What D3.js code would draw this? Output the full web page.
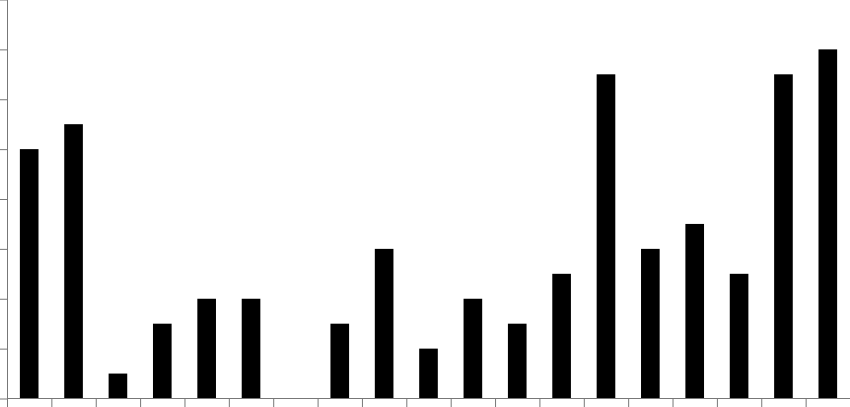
<!DOCTYPE html>
<html>
    <head>
        <script src="https://d3js.org/d3.v7.min.js"></script>
        <style>
            body { margin: 0; background: #fff; }
            svg { display: block; }
        </style>
    </head>
    <body>
        <script>
            const categories = ['1', '2', '3', '4', '5', '6', '7', '8', '9', '10',
                '11', '12', '13', '14', '15', '16', '17', '18', '19']
            const values = [5, 5.5, 0.5, 1.5, 2, 2, 0, 1.5, 3, 1, 2, 1.5, 2.5, 6.5, 3, 3.5, 2.5, 6.5, 7]
            const yTicks = [0, 1, 2, 3, 4, 5, 6, 7, 8]

            const width = 850
            const height = 407
            const left = 7
            const right = 850
            const bottom = 398.5

            const svg = d3.select('body').append('svg')
                .attr('width', width)
                .attr('height', height)

            const x = d3.scaleBand()
                .domain(categories)
                .range([left, right])
                .paddingInner(0.58)
                .paddingOuter(0.29)

            const xEdges = d3.scaleLinear()
                .domain([0, categories.length])
                .range([left, right])

            const y = d3.scaleLinear()
                .domain([0, 8])
                .range([bottom, -0.5])

            svg.selectAll('.bar')
                .data(values).enter()
                .append('rect')
                    .attr('class', 'bar')
                    .attr('x', (d, i) => x(categories[i]))
                    .attr('y', d => y(d))
                    .attr('width', x.bandwidth())
                    .attr('height', d => y(0) - y(d))
                    .attr('fill', '#000')

            const yAxis = svg.append('g')
                .attr('transform', `translate(${left}, 0)`)
                .call(d3.axisLeft(y).tickValues(yTicks).tickSize(7).tickSizeOuter(0).tickFormat(''))

            const xAxis = svg.append('g')
                .attr('transform', `translate(0, ${Math.floor(bottom)})`)
                .call(d3.axisBottom(xEdges).tickValues(d3.range(categories.length + 1))
                    .tickSize(9).tickSizeOuter(0).tickFormat(''))

            svg.selectAll('.domain, .tick line').attr('stroke', '#777')
        </script>
    </body>
</html>
